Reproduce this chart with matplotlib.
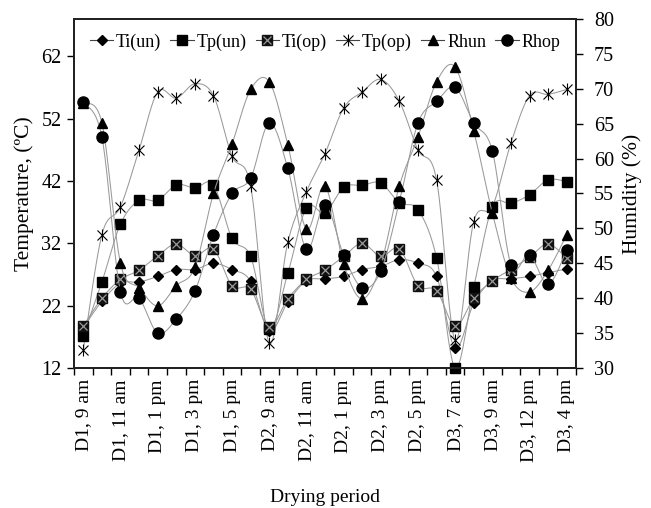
import numpy as np
import matplotlib.pyplot as plt
from matplotlib.lines import Line2D
from matplotlib.legend_handler import HandlerTuple

plt.rcParams['font.family'] = ['Liberation Serif', 'DejaVu Serif']

# Drying period (only every other one is labelled on the axis)
periods = ['D1, 9 am', 'D1, 10 am', 'D1, 11 am', 'D1, 12 pm', 'D1, 1 pm', 'D1, 2 pm',
           'D1, 3 pm', 'D1, 4 pm', 'D1, 5 pm', 'D1, 6 pm', 'D2, 9 am', 'D2, 10 am',
           'D2, 11 am', 'D2, 12 pm', 'D2, 1 pm', 'D2, 2 pm', 'D2, 3 pm', 'D2, 4 pm',
           'D2, 5 pm', 'D2, 6 pm', 'D3, 7 am', 'D3, 8 am', 'D3, 9 am', 'D3, 11 am',
           'D3, 12 pm', 'D3, 2 pm', 'D3, 4 pm']

# Temperatures (C)
ti_un = [18.5, 22.7, 25.6, 25.8, 26.7, 27.8, 27.8, 28.8, 27.8, 25.9, 17.9, 22.6, 26.0, 26.3,
         26.7, 27.8, 28.3, 29.4, 28.8, 26.7, 15.2, 22.4, 26.0, 26.3, 26.7, 27.3, 27.9]
tp_un = [17.2, 25.8, 35.1, 38.9, 38.9, 41.4, 40.9, 41.4, 32.8, 29.9, 18.3, 27.2, 37.7, 36.9,
         41.0, 41.3, 41.7, 38.5, 37.4, 29.7, 12.0, 25.0, 37.8, 38.4, 39.8, 42.2, 41.9]
ti_op = [18.7, 23.2, 26.2, 27.7, 30.0, 31.9, 30.0, 31.1, 25.2, 24.6, 18.5, 23.1, 26.2, 27.7,
         29.9, 32.0, 29.9, 31.1, 25.2, 24.4, 18.7, 23.2, 26.0, 27.8, 29.8, 31.9, 29.6]
tp_op = [14.9, 33.4, 37.9, 47.0, 56.3, 55.3, 57.6, 55.7, 46.0, 41.2, 16.0, 32.2, 40.3, 46.4,
         53.7, 56.3, 58.3, 54.8, 47.0, 42.2, 16.5, 35.5, 37.9, 48.1, 55.7, 55.9, 56.7]

# Relative humidity (%)
rh_un = [68.0, 65.1, 45.0, 41.5, 38.9, 41.8, 44.4, 55.0, 62.1, 69.9, 71.0, 62.0, 49.9, 56.1,
         44.9, 39.9, 44.8, 56.1, 63.1, 71.0, 73.1, 64.0, 52.2, 42.9, 40.9, 44.0, 49.1]
rh_op = [68.1, 63.1, 40.9, 40.0, 35.0, 37.0, 41.0, 49.1, 55.0, 57.2, 65.1, 58.6, 47.0, 53.4,
         46.2, 41.5, 43.9, 53.8, 65.1, 68.2, 70.2, 65.1, 61.1, 44.8, 46.2, 42.0, 46.9]


def smooth(vals):
    # Bezier smoothing like a spreadsheet "smoothed line"
    x = np.arange(len(vals), dtype=float)
    y = np.asarray(vals, dtype=float)
    t = np.linspace(0, 1, 25)
    xs, ys = [], []
    n = len(y)
    for k in range(n - 1):
        p0, p3 = max(k - 1, 0), min(k + 2, n - 1)
        for arr, out in ((x, xs), (y, ys)):
            a, b = arr[k], arr[k + 1]
            c1 = a + (b - arr[p0]) / 6
            c2 = b - (arr[p3] - a) / 6
            out.extend((1 - t) ** 3 * a + 3 * (1 - t) ** 2 * t * c1
                       + 3 * (1 - t) * t ** 2 * c2 + t ** 3 * b)
    return xs, ys


fig = plt.figure(figsize=(6.51, 5.08), dpi=100)
ax = fig.add_axes([0.1137, 0.2756, 0.7711, 0.687])
ax2 = ax.twinx()

line_kw = dict(color='#999999', lw=0.75, zorder=1)
mk = dict(ls='none', clip_on=False)
x = np.arange(len(periods))

# temperature series
ax.plot(*smooth(ti_un), **line_kw)
ax.plot(x, ti_un, marker='D', color='k', ms=5.5, zorder=3, **mk)
ax.plot(*smooth(tp_un), **line_kw)
ax.plot(x, tp_un, marker='s', color='k', ms=6.5, zorder=3, **mk)
ax.plot(*smooth(ti_op), **line_kw)
ax.plot(x, ti_op, marker='s', color='#111111', ms=7, zorder=3, **mk)
ax.plot(x, ti_op, marker='x', color='#9a9a9a', ms=6, mew=0.9, zorder=4, **mk)
ax.plot(*smooth(tp_op), **line_kw)
ax.plot(x, tp_op, marker='x', color='k', ms=6.5, mew=0.8, zorder=3, **mk)
ax.plot(x, tp_op, marker='|', color='k', ms=8.5, mew=0.8, zorder=3, **mk)

# humidity series
ax2.plot(*smooth(rh_un), **line_kw)
ax2.plot(x, rh_un, marker='^', color='k', ms=7.5, zorder=3, **mk)
ax2.plot(*smooth(rh_op), **line_kw)
ax2.plot(x, rh_op, marker='o', color='k', ms=8, zorder=3, **mk)

ax.set_xlim(-0.5, len(periods) - 0.5)
ax.set_ylim(12, 68)
ax.set_yticks(range(12, 63, 10))
ax2.set_ylim(30, 80)
ax2.set_yticks(range(30, 81, 5))

ax.set_xticks(x[::2])
ax.set_xticklabels(periods[::2], rotation=90)
ax.set_xticks(np.arange(-0.5, len(periods), 1), minor=True)
ax.tick_params(axis='x', which='major', length=0, pad=8, labelsize=14)
ax.tick_params(axis='x', which='minor', length=5, width=1, direction='out')
ax.tick_params(axis='y', length=5, width=1, labelsize=14.5, pad=4)
ax2.tick_params(axis='y', length=5, width=1, labelsize=14.5, pad=8)

for a in (ax, ax2):
    for s in a.spines.values():
        s.set_linewidth(1.4)
        s.set_color('#222222')

ax.set_xlabel('Drying period', fontsize=14, labelpad=19)
ax.set_ylabel('Temperature, (ºC)', fontsize=15.5, labelpad=5)
ax2.set_ylabel('Humidity (%)', fontsize=15.5, labelpad=6)

lk = dict(color='#444444', lw=0.8)
handles = [
    Line2D([], [], marker='D', ms=5.5, mfc='k', mec='k', **lk),
    Line2D([], [], marker='s', ms=6.5, mfc='k', mec='k', **lk),
    (Line2D([], [], marker='s', ms=7, mfc='#111111', mec='#111111', **lk),
     Line2D([], [], marker='x', ms=6, mec='#9a9a9a', mew=0.9, ls='none')),
    (Line2D([], [], marker='x', ms=6.5, mec='k', mew=0.8, **lk),
     Line2D([], [], marker='|', ms=8.5, mec='k', mew=0.8, ls='none')),
    Line2D([], [], marker='^', ms=7.5, mfc='k', mec='k', **lk),
    Line2D([], [], marker='o', ms=8, mfc='k', mec='k', **lk),
]
labels = ['Ti(un)', 'Tp(un)', 'Ti(op)', 'Tp(op)', 'Rhun', 'Rhop']
ax2.legend(handles, labels, loc='upper center', bbox_to_anchor=(0.5, 1.0), ncol=6,
           frameon=False, fontsize=13, handlelength=1.3, handletextpad=0.15,
           columnspacing=0.5, borderaxespad=0.4,
           handler_map={tuple: HandlerTuple(ndivide=1, pad=0)})

fig.savefig('out.png', dpi=100)
